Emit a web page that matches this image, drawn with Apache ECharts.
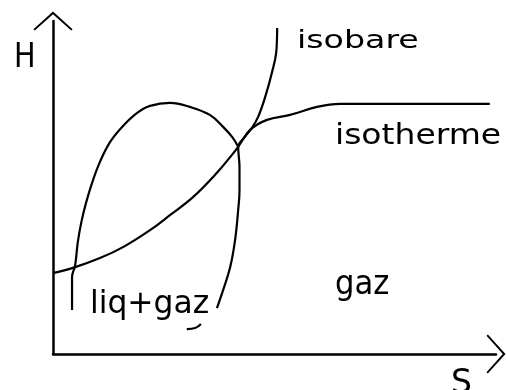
<!DOCTYPE html>
<html>
<head>
<meta charset="utf-8">
<script src="https://cdn.jsdelivr.net/npm/echarts@6/dist/echarts.min.js"></script>
<style>
html, body { margin: 0; padding: 0; background: #fff; }
#chart { width: 506px; height: 390px; }
</style>
</head>
<body>
<div id="chart"></div>
<script>
// Enthalpy-entropy (H-S) sketch: saturation curve, one isobar, one isotherm.
// Points are [S, H] in arbitrary diagram units (0..10 on both axes).
const saturation = [
  [0.43, 1.32], [0.43, 2.31], [0.50, 2.67], [0.56, 3.36], [0.64, 3.96],
  [0.75, 4.56], [0.89, 5.17], [1.06, 5.77], [1.29, 6.37], [1.56, 6.82],
  [1.90, 7.24], [2.19, 7.45], [2.64, 7.54], [3.09, 7.42],
  [3.54, 7.18], [3.84, 6.82], [4.06, 6.49], [4.18, 6.22]
];
const isobar = [
  [3.02, 0.75], [3.21, 0.78], [3.34, 0.90], ['-', '-'],
  [3.70, 1.38], [3.84, 1.92], [4.00, 2.61], [4.11, 3.42], [4.18, 4.32],
  [4.21, 4.92], [4.21, 5.60], [4.18, 6.22], [4.33, 6.52], [4.49, 6.79],
  [4.63, 7.12], [4.79, 7.72], [4.94, 8.44], [5.04, 9.07], [5.06, 9.79]
];
const isotherm = [
  [0, 2.43], [0.50, 2.61], [1.06, 2.88], [1.58, 3.21], [2.19, 3.72],
  [2.64, 4.17], [3.16, 4.71], [3.70, 5.44], [4.04, 5.98], [4.18, 6.22],
  [4.45, 6.73], [4.83, 7.03], [5.35, 7.18], [5.96, 7.42], [6.48, 7.51],
  [9.86, 7.51]
];
const axisNames = ['S', 'H'];
const curveNames = ['isobare', 'isotherme'];
const regionNames = ['liq+gaz', 'gaz'];

const chart = echarts.init(document.getElementById('chart'), null, { renderer: 'canvas' });

// open chevron used as the arrow head at the end of each axis
const chevron = 'path://M0,18 L20,0 L40,18 L38.6,19.4 L20,2.8 L1.4,19.4 Z';

const axisCommon = {
  type: 'value',
  min: 0,
  max: 10,
  axisLine: {
    show: true,
    onZero: false,
    symbol: ['none', chevron],
    symbolSize: [40, 19],
    lineStyle: { color: '#000', width: 2.5 }
  },
  axisTick: { show: false },
  axisLabel: { show: false },
  splitLine: { show: false }
};

function curve(name, data) {
  return {
    type: 'line',
    name: name,
    data: data,
    showSymbol: false,
    symbol: 'none',
    smooth: 0.4,
    connectNulls: false,
    clip: false,
    silent: true,
    lineStyle: { color: '#000', width: 2.2 }
  };
}

const font = 'DejaVu Sans';
function label(text, x, baseline, size, sx) {
  return {
    type: 'text',
    x: x,
    y: baseline - 0.23 * size,
    scaleX: sx,
    silent: true,
    style: {
      text: text,
      fontFamily: font,
      fontSize: size,
      fill: '#000',
      align: 'left',
      verticalAlign: 'middle'
    }
  };
}

chart.setOption({
  animation: false,
  backgroundColor: '#fff',
  grid: { left: 53, top: 21, right: 10, bottom: 36, containLabel: false },
  xAxis: axisCommon,
  yAxis: axisCommon,
  series: [
    curve('saturation', saturation),
    curve(curveNames[0], isobar),
    curve(curveNames[1], isotherm)
  ],
  graphic: [
    label(axisNames[1], 14, 66, 33, 0.87),
    label(axisNames[0], 451, 392, 33, 1.0),
    label(curveNames[0], 297, 47, 25, 1.33),
    label(curveNames[1], 335, 143, 27.5, 1.2),
    label(regionNames[0], 90, 312, 32, 0.98),
    label(regionNames[1], 335, 293, 33, 0.93)
  ]
});
</script>
</body>
</html>
